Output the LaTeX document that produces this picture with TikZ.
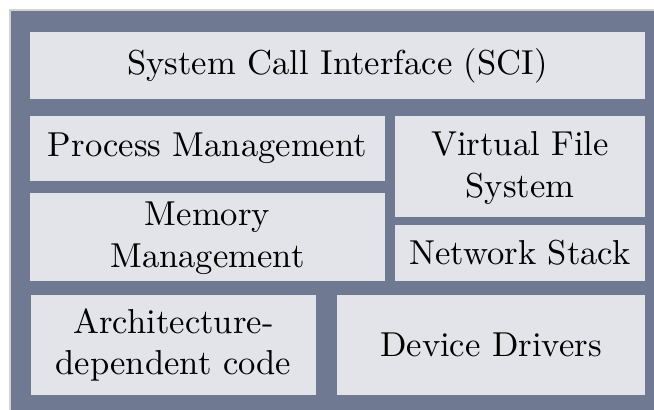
\documentclass[tikz,border=0pt]{standalone}
\definecolor{slate}{HTML}{6F7A92}
\definecolor{boxfill}{HTML}{E3E4EA}
\definecolor{framegray}{HTML}{D2D3CC}
\begin{document}
\begin{tikzpicture}[x=1pt,y=1pt,
  blk/.style={draw=none,inner sep=0pt,align=center,scale=3.46,transform shape,
    font=\fontsize{10}{12.1}\selectfont},
]
\useasboundingbox (0,0) rectangle (654,410);
\fill[white] (0,0) rectangle (654,410);
\fill[framegray] (9,-10) rectangle (660,401);
\fill[slate] (11,-10) rectangle (660,399);
\fill[boxfill] (30,311) rectangle (645,378);
\node[blk] (sci) at (337.5,344.5) {System Call Interface (SCI)};
\fill[boxfill] (30,229) rectangle (385,294);
\node[blk] (pm) at (207.5,261.5) {Process Management};
\fill[boxfill] (30,129) rectangle (385,217);
\node[blk] (mm) at (207.5,172) {Memory\\Management};
\fill[boxfill] (395,193) rectangle (645,294);
\node[blk] (vfs) at (520,242) {Virtual File\\System};
\fill[boxfill] (395,129) rectangle (645,185);
\node[blk] (ns) at (520,157) {Network Stack};
\fill[boxfill] (31,15) rectangle (316,115);
\node[blk] (arch) at (173.5,65) {Architecture-\\dependent code};
\fill[boxfill] (337,15) rectangle (645,115);
\node[blk] (dd) at (491,65) {Device Drivers};
\end{tikzpicture}
\end{document}
